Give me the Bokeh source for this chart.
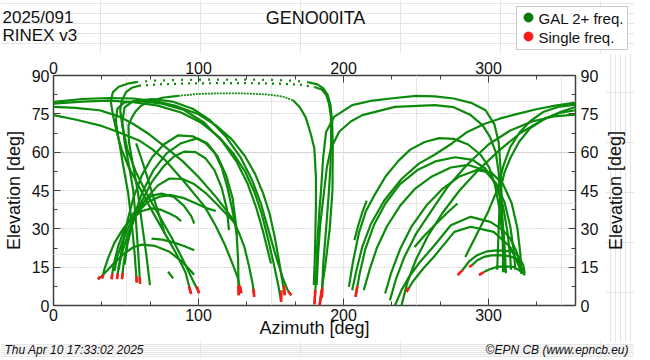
from bokeh.plotting import figure
from bokeh.layouts import column, row
from bokeh.models import (LinearAxis, FixedTicker, Grid, ColumnDataSource, Range1d)
from bokeh.core.properties import value
from bokeh.embed import file_html
from bokeh.resources import INLINE

# ---------------- axis / tick values ----------------
x_ticks = [0, 100, 200, 300]
x_minor = [33.33, 66.67, 133.33, 166.67, 233.33, 266.67, 333.33]
y_ticks = [0, 15, 30, 45, 60, 75, 90]
y_minor = [7.5, 22.5, 37.5, 52.5, 67.5, 82.5]
grid_levels = [15, 30, 45, 60, 75]

# ---------------- GAL 2+ freq. tracks (azimuth, elevation) ----------------
A = [(0, 79.7), (20, 80.8), (38, 81.2), (55, 81), (70, 80), (85, 78), (100, 74.8), (112, 70.5), (123, 65), (132, 58.5), (139, 51.5), (144.5, 44), (149, 36), (152.5, 27), (155.5, 17.5), (158, 9), (159.5, 4)]
B = [(0, 79), (20, 79.8), (38, 80.2), (55, 79.6), (72, 78.2), (88, 75.5), (102, 71.5), (114, 66), (124, 59.5), (132, 52.5), (138.5, 44.5), (143.5, 36), (148, 26), (152, 16), (155, 8), (157, 1.4)]
C = [(0, 77.7), (15, 77.3), (31.8, 76.4), (45, 74), (54.5, 71.2), (66, 67), (77, 62.1), (89, 56.5), (100, 50.3), (112, 42.5), (122.6, 34.7), (127.5, 29), (131.6, 23), (135, 15), (137.5, 8), (138.4, 3.4)]
D = [(0, 74.5), (15, 72.8), (31.8, 70.5), (45, 67.8), (59, 64.6), (68, 61.2), (77, 56.9), (90, 48.5), (104.4, 38.6), (112, 31), (118, 24), (123, 17), (127, 11), (129.5, 4.8)]
E = [(59.7, 8.5), (58.5, 20), (57, 32), (55, 45), (52, 55), (49, 64), (47.5, 72), (49, 77.5), (55, 80), (68, 80.8), (82, 79.8), (96, 77), (108, 72.5), (119, 66), (129, 58), (137, 49), (143, 40), (148, 30), (153, 20), (158, 11), (161.5, 6), (164, 4)]
F = [(57.4, 9), (56, 20), (54, 32), (51.5, 44), (48, 55), (45, 65), (43, 72), (44, 77), (49, 79.5), (60, 80), (75, 79), (90, 76.5), (104, 71.5), (116, 64.5), (126, 56.5), (134, 47.5), (140, 38), (144.5, 29), (148, 21), (150, 16.4)]

Z1_lo = [(95, 4.5), (91, 13), (84, 21), (75, 30), (66, 39), (58, 47.5), (52, 54), (47, 61), (43.5, 68), (41, 74.5), (39.5, 80), (41, 83.5), (45, 85.6), (51, 86.8), (57, 87.4)]
Z1_top = [(57, 87.4), (70, 88), (90, 88.3), (110, 88.4), (130, 88.4), (150, 88.3), (165, 88), (176, 87.3)]
Z1_desc = [(176, 87.3), (182, 86.5), (186, 85), (189, 82.5), (191, 78.5), (192.2, 72), (192.6, 62), (192.4, 45), (190.5, 30), (187.5, 16), (185, 6), (183.5, 0)]
Z2_lo = [(100.5, 4.8), (96, 10), (90, 17), (82, 26), (73, 35), (64, 44), (57, 52), (51, 61), (47.5, 70), (46, 76.5), (47, 80), (50, 83.5), (54, 85.2), (59, 86)]
Z2_top = [(59, 86), (75, 86.6), (95, 86.9), (115, 87), (135, 87), (155, 86.8), (170, 86.4), (180, 85.5)]
Z2_desc = [(180, 85.5), (185, 84.5), (188, 82.5), (190, 79), (191.3, 74), (191.5, 65), (191, 55), (190, 45), (188, 30), (186, 16), (185, 3)]
Z3_lo = [(66.5, 8), (64, 20), (61, 32), (58, 45), (54.5, 56), (52, 64), (51.7, 70.5), (54, 73.5), (56.3, 75.7), (60, 78), (65.3, 79.7), (75, 81.3), (85.8, 82)]
Z3_top = [(85.8, 82), (100, 82.8), (113, 83), (130, 83), (147, 82.6), (158, 81.8), (165.2, 80.3)]
Z3_desc = [(165.2, 80.3), (170, 77.5), (174, 73.5), (177.5, 67), (179.9, 61.4), (181, 50), (181, 40), (180.5, 25), (180, 15), (179.5, 8)]

P1 = [(45, 14), (47, 22), (50.5, 32), (55, 42), (61, 51), (68, 58), (76, 63), (86, 66.6), (96, 66.2), (105, 63.5), (113, 58.5), (119, 51), (123.5, 42), (126, 31), (127.3, 18), (127.7, 4)]
P2 = [(49, 16), (51, 24), (55, 34), (61, 44), (69, 53), (78, 59.5), (88, 63.5), (99, 65.4), (106, 63.5), (111, 60), (116, 54), (120, 46), (123.5, 37), (126.6, 27.5)]
P3 = [(47.2, 10.3), (48.5, 17), (51, 25), (55, 33), (61, 41), (68, 48.5), (76, 54.5), (83, 58.3), (90, 60.2), (98, 60), (105, 57.5), (111, 53), (116, 46), (119.5, 38), (121, 29.5)]
P4 = [(43.8, 10.3), (45, 15.5), (48, 22), (52, 29), (58, 36.5), (65, 42.5), (72, 47), (80, 49.7), (89, 49.5), (97, 47.5), (105, 44), (112, 40), (118, 36.5), (124.4, 32.7)]
P5 = [(40, 10.3), (41.5, 16), (44.5, 23), (49, 30), (55, 36), (62, 40.5), (68, 43), (74.4, 43.8), (83, 42.5), (90, 39), (95, 35), (97.1, 32.1)]
P6 = [(42, 13.5), (44, 19), (47.5, 25), (52, 31), (58, 36.5), (65, 40.5), (73, 42.6), (81, 43.2), (90, 42), (98, 40), (106, 38), (112, 37)]
P7 = [(33.5, 10.6), (35, 14), (38, 19), (42, 24.5), (48, 30), (54, 34), (61, 37), (67.6, 38), (74, 37.5), (80, 36), (85, 34.5), (88, 33)]
P8 = [(30.8, 10.2), (35, 12.5), (40, 15.5), (48, 20), (55, 22.8), (61, 23.8), (70, 23.3), (80, 21), (88, 17.5), (94, 14), (97, 12)]
K1 = [(67.6, 26.2), (75, 25.8), (82, 24.8), (90, 23.3), (97.1, 21.6)]
K2 = [(79, 13.2), (82.5, 10.6)]
M1 = [(57, 63.4), (60, 58.5), (64, 51.5), (68, 44), (72, 37), (76.7, 28.2)]

R1 = [(180, 0.5), (181, 10), (182, 25), (183.5, 38), (184.5, 45), (186, 58), (188, 67.9), (193.5, 73.8), (206, 78.4), (220, 80.2), (235.5, 81.2), (250, 82), (263, 81.8), (276, 81), (288, 79.3), (298, 76.4), (304, 71), (307, 64), (308.5, 52), (309.2, 40), (309.8, 28), (310, 18), (310, 13)]
R2 = [(181.5, 8), (182.5, 20), (184, 32), (186.7, 45), (188.5, 54), (191.3, 61.4), (197, 68), (205, 72), (213, 74.5), (235.5, 77.7), (262.8, 78.4), (276, 77.6), (287.7, 74.5), (296, 70.5), (301, 66), (305, 60), (307, 52), (308.5, 40), (310.5, 28), (311.5, 19), (312, 12.6)]
RA1 = [(203.7, 7.3), (206.5, 17), (210.6, 28.3), (215.5, 37), (222, 43.8), (229, 50.5), (237.7, 56.5), (246, 61), (256, 64), (266, 65.5), (276, 65.2), (286, 63), (294.5, 59), (300.5, 54), (304.5, 47), (307.5, 38), (309.5, 28), (311, 18), (311.5, 13)]
RA2 = [(208.3, 3.4), (211, 12), (215, 22), (221, 31.5), (229, 40), (239, 47.5), (251, 53), (264, 56.5), (277, 58), (289, 57), (298, 53.5), (305, 47.5), (310, 39), (313, 29), (315, 19), (315.5, 14)]
RA3 = [(214, 6), (218, 14), (223, 22.5), (230, 31), (239, 39), (249, 45.5), (261, 50.5), (274, 54), (286, 55), (297, 53), (305, 48), (311, 40.5), (315, 31), (317.5, 21), (318.5, 14)]
RA4 = [(228.7, 4.7), (233, 13), (239, 22), (247, 31), (257, 39), (268, 45.5), (280, 50.5), (292, 53), (302, 52), (310, 47.5), (316, 40), (320, 30), (322, 20), (322.5, 14)]
HR1 = [(206, 6), (209, 14), (213, 23), (219, 32), (228, 41), (240, 49.5), (252, 55.5), (262.8, 59), (275, 63.5), (285.4, 67.9), (297, 71), (308.1, 73.2), (320, 75), (333, 76.8), (346, 78.2), (360, 79.4)]
HR2 = [(232, 2), (236, 10), (242, 19), (250, 28), (260, 36.5), (271.8, 46.4), (285, 55), (300, 63), (315, 68.5), (330, 72), (345, 74), (360, 74.7)]
HR3 = [(284, 19), (292, 28), (300, 37), (305.9, 45.1), (310.4, 54.9), (315, 62), (321.7, 67.9), (329, 72.2), (337.6, 75.7), (348, 77.7), (360, 78.6)]
HR4 = [(306, 14), (307, 30), (308.1, 45.1), (311, 52), (314.9, 57.5), (321, 64), (328.6, 69.3), (340, 73.5), (350, 75.5), (360, 76.4)]
HR5 = [(240, 0), (244, 9), (250, 18), (258, 27), (268, 36), (280, 45), (293, 53), (308, 61), (322, 67.5), (337, 72.5), (350, 75.8), (360, 77.7)]
RB1 = [(235.5, 0), (240, 6), (245, 11), (252, 16.5), (262.8, 23.6), (274, 31.4), (287.7, 34.7), (301.3, 32.7), (310, 29.5), (315, 26.2), (319, 21.5), (321.7, 17.1), (324, 12.5)]
RB2 = [(243.5, 5.3), (248, 9.5), (255, 14.5), (263, 19.5), (276.4, 28.8), (287.7, 30.8), (303.6, 28.8), (315, 22.9), (320.7, 15.8), (322.9, 12.5)]
RC1 = [(282, 13.8), (287, 17.5), (292.2, 19.7), (299, 21.2), (305.9, 21.6), (312, 21.4), (317.2, 21), (321, 19), (324, 15.8), (325, 12.5)]
RC2 = [(288.8, 15.8), (292, 17.6), (296.8, 19), (302, 19.6), (308.2, 19.7), (314, 19.3), (319.5, 18.4), (322, 15.5), (322.9, 12.5)]
RC3 = [(296.8, 13.1), (300, 14), (305.9, 15.1), (311, 15.3), (317.2, 15.1), (322, 13.5), (325.2, 11.9)]
SL1 = [(249, 22.9), (256, 27.5), (263, 31.5), (271, 36), (278.6, 39.9)]
SL3 = [(207.5, 25.5), (210, 31), (213, 36.5), (216, 41)]

gal_tracks = [A, B, C, D, E, F, Z1_lo, Z1_desc, Z2_lo, Z2_desc, Z3_lo, Z3_desc,
              P1, P2, P3, P4, P5, P6, P7, P8, K1, K2, M1,
              R1, R2, RA1, RA2, RA3, RA4, HR1, HR2, HR3, HR4, HR5,
              RB1, RB2, RC1, RC2, RC3, SL1, SL3]
zenith_sparse = [Z1_top]
zenith_medium = [Z2_top]
zenith_fine = [Z3_top]

# ---------------- Single freq. observations (azimuth, elevation) ----------------
single_freq = [
    [(30.8, 10.2), (32, 11.4)], [(33.5, 10.6), (34.4, 12.2)], [(40, 10.3), (40.6, 12.4)],
    [(43.8, 10.3), (44.3, 12.6)], [(47.2, 10.3), (47.7, 12.8)], [(57.4, 9), (57.2, 11.5)],
    [(59.7, 8.5), (59.5, 11)], [(93.3, 7.5), (95, 4.5)], [(98.8, 7.5), (100.5, 4.8)],
    [(127.6, 8), (127.7, 4)], [(128.7, 7.5), (129.5, 4.8)], [(138, 6.5), (138.4, 3.4)],
    [(157.2, 6), (157, 1.4)], [(159, 8), (159.5, 4)], [(162, 5.5), (164, 4)],
    [(185, 6), (183.5, 0)], [(185.5, 7), (185, 3)], [(180, 0.5), (180.5, 6)],
    [(208.3, 3.4), (209.5, 7.5)], [(243.5, 5.3), (245, 7)],
    [(278.6, 11.9), (282, 13.8)], [(286.6, 15.1), (288.8, 15.8)], [(293.4, 11.9), (296.8, 13.1)],
]

title_text = "GENO00ITA"
day_text = "2025/091"
rinex_text = "RINEX v3"
date_text = "Thu Apr 10 17:33:02 2025"
credit_text = "\u00a9EPN CB (www.epncb.eu)"
x_label = "Azimuth [deg]"
y_label = "Elevation [deg]"
legend_labels = ["GAL 2+ freq.", "Single freq."]

GREEN = "#0b8a0b"
GREEN_DOT = "#0a7a0a"
RED = "#ff1a1a"
AXC = "#404040"
TXT = "#111111"
FONT = "Liberation Sans"
W = 634
MAIN_W, STRIP_W = 605, 29
HEAD_H, MAIN_H, FOOT_H = 53, 289, 16


def cols(tracks):
    return dict(xs=[[pt[0] for pt in t] for t in tracks],
                ys=[[pt[1] for pt in t] for t in tracks])


def blank_fig(w, h):
    f = figure(width=w, height=h, output_backend="svg", toolbar_location=None,
               x_range=Range1d(0, w), y_range=Range1d(0, h),
               x_axis_location=None, y_axis_location=None,
               min_border_left=0, min_border_right=0, min_border_top=0, min_border_bottom=0)
    f.frame_align = False
    f.outline_line_color = None
    f.background_fill_color = "white"
    f.border_fill_color = "white"
    return f


# ---------------- header strip (pixel coordinates, y up) ----------------
head = blank_fig(W, HEAD_H)
head.text(x=[2, 2], y=[36, 18.5], text=[day_text, rinex_text], text_font=value(FONT),
          text_font_size=value("17px"), text_color=TXT, text_align="left", text_baseline="alphabetic")
head.text(x=[315], y=[36], text=[title_text], text_font=value(FONT),
          text_font_size=value("18px"), text_color=TXT, text_align="center", text_baseline="alphabetic")
head.quad(left=[516], right=[627], top=[47], bottom=[4], fill_color="white",
          line_color="#c8c8c8", line_width=1)
head.scatter(x=[528], y=[36], marker="circle", size=9, fill_color=GREEN_DOT, line_color=GREEN_DOT)
head.scatter(x=[528], y=[17], marker="circle", size=9, fill_color=RED, line_color=RED)
head.text(x=[538, 538], y=[35, 16], text=legend_labels, text_font=value(FONT),
          text_font_size=value("15px"), text_color=TXT, text_align="left", text_baseline="alphabetic")

# ---------------- main chart ----------------
p = figure(width=MAIN_W, height=MAIN_H, output_backend="svg", toolbar_location=None,
           x_range=Range1d(0, 360), y_range=Range1d(0, 90),
           x_axis_location=None, y_axis_location=None,
           min_border_left=46, min_border_right=30, min_border_top=22, min_border_bottom=37)
p.frame_align = False
p.outline_line_color = AXC
p.outline_line_width = 1.5
p.background_fill_color = "white"
p.border_fill_color = "white"


def mk_axis(ticks, minor, label, lab_standoff, ax_standoff):
    ax = LinearAxis(ticker=FixedTicker(ticks=ticks, minor_ticks=minor))
    if label:
        ax.axis_label = label
    ax.axis_line_color = None
    ax.major_tick_in = 7
    ax.major_tick_out = 0
    ax.minor_tick_in = 4
    ax.minor_tick_out = 0
    ax.major_tick_line_color = AXC
    ax.minor_tick_line_color = AXC
    ax.major_label_text_font = FONT
    ax.major_label_text_font_size = "16px"
    ax.major_label_text_color = TXT
    ax.major_label_standoff = lab_standoff
    ax.axis_label_text_font = FONT
    ax.axis_label_text_font_size = "18px"
    ax.axis_label_text_font_style = "normal"
    ax.axis_label_text_color = TXT
    ax.axis_label_standoff = ax_standoff
    return ax


p.add_layout(mk_axis(x_ticks, x_minor, x_label, 3, -6), "below")
p.add_layout(mk_axis(x_ticks, x_minor, None, 2, 0), "above")
p.add_layout(mk_axis(y_ticks, y_minor, y_label, 4, 5), "left")
p.add_layout(mk_axis(y_ticks, y_minor, None, 5, 0), "right")

p.add_layout(Grid(dimension=1, ticker=FixedTicker(ticks=grid_levels),
                  grid_line_color="#b4b4b4", grid_line_dash="1 2", grid_line_width=1))

p.multi_line("xs", "ys", source=ColumnDataSource(cols(gal_tracks)),
             line_color=GREEN, line_width=2.2)
p.multi_line("xs", "ys", source=ColumnDataSource(cols(zenith_sparse)),
             line_color=GREEN, line_width=2.2, line_dash="2 7")
p.multi_line("xs", "ys", source=ColumnDataSource(cols(zenith_medium)),
             line_color=GREEN, line_width=2.2, line_dash="2 5")
p.multi_line("xs", "ys", source=ColumnDataSource(cols(zenith_fine)),
             line_color=GREEN, line_width=1.8, line_dash="2 1")
p.multi_line("xs", "ys", source=ColumnDataSource(cols(single_freq)),
             line_color=RED, line_width=2.6)

# ---------------- right-hand axis title strip (reads bottom to top) ----------------
strip = blank_fig(STRIP_W, MAIN_H)
strip.text(x=[10], y=[152], text=[y_label], text_font=value(FONT), text_font_size=value("18px"),
           text_color=TXT, text_align="center", text_baseline="middle", angle=1.5708)

# ---------------- footer strip (pixel coordinates, y up) ----------------
foot = blank_fig(W, FOOT_H)
foot.text(x=[4], y=[9], text=[date_text], text_font=value(FONT), text_font_size=value("12px"),
          text_font_style="italic", text_color=TXT, text_align="left", text_baseline="alphabetic")
foot.text(x=[628], y=[9], text=[credit_text], text_font=value(FONT), text_font_size=value("12px"),
          text_font_style="italic", text_color=TXT, text_align="right", text_baseline="alphabetic")

layout = column(head, row(p, strip, spacing=0), foot, spacing=0)
open("out.html", "w").write(file_html(layout, INLINE))
